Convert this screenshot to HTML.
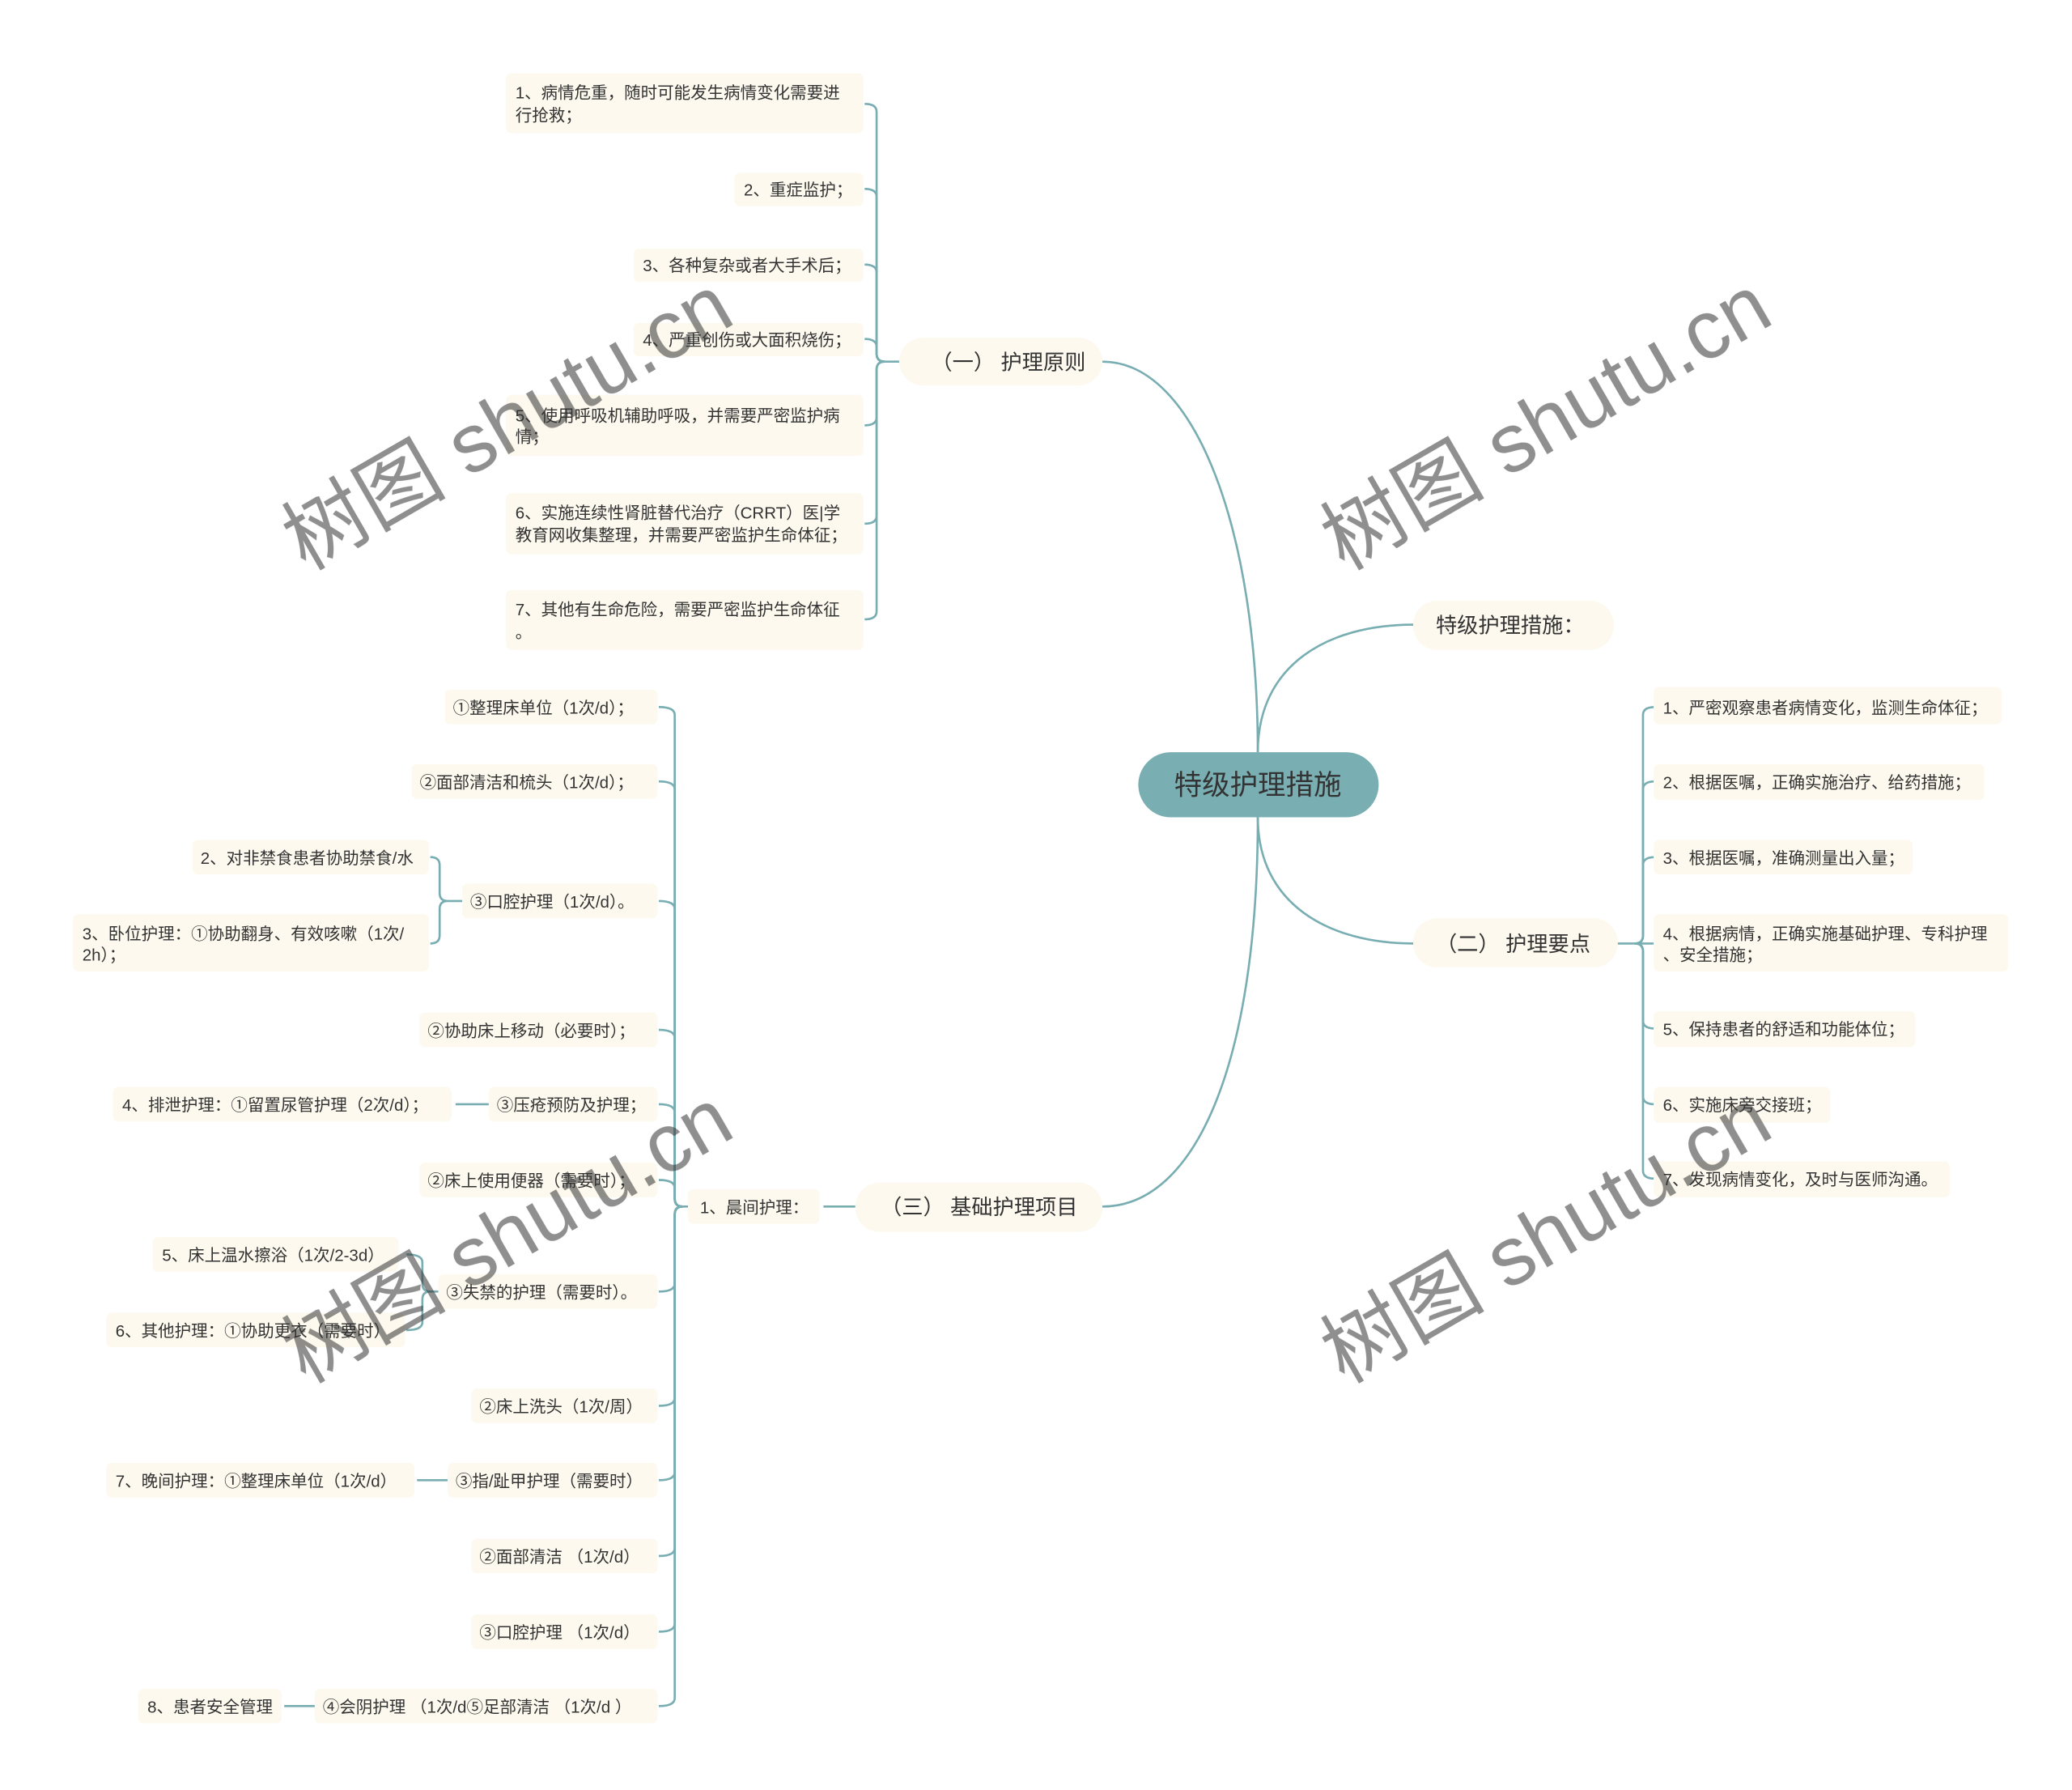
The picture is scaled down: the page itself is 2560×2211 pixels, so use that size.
<!DOCTYPE html>
<html><head><meta charset="utf-8"><style>
html,body{margin:0;padding:0;background:#fff;}
svg{display:block;}
text{font-family:"Liberation Sans","Noto Sans CJK SC",sans-serif;fill:#333;}
.l{font-size:12.5px;}
.b{font-size:16px;}
.wm{font-size:62px;fill:#d4d4d4;opacity:.55;font-family:"Liberation Serif","Noto Serif CJK SC",serif;}
</style></head><body>
<svg width="2560" height="2211" viewBox="0 0 1560 1347" xmlns="http://www.w3.org/2000/svg">
<g fill="none" stroke="#78adb1" stroke-width="1.6">
<path d="M947,566 C947,400 900,272 830,272"/>
<path d="M947,566 C947,500 1000,470 1064,470"/>
<path d="M947,615 C947,680 1000,710 1064,710"/>
<path d="M947,615 C947,800 900,908 830,908"/>
<path d="M677,272 L666,272 Q660,272 660,266 L660,84 Q660,78 651,78"/>
<path d="M666,272 Q660,272 660,266 L660,148 Q660,142 651,142"/>
<path d="M666,272 Q660,272 660,266 L660,205 Q660,199 651,199"/>
<path d="M666,272 Q660,272 660,266 L660,261 Q660,255 651,255"/>
<path d="M666,272 Q660,272 660,278 L660,314 Q660,320 651,320"/>
<path d="M666,272 Q660,272 660,278 L660,388 Q660,394 651,394"/>
<path d="M666,272 Q660,272 660,278 L660,460 Q660,466 651,466"/>
<path d="M1218,710 L1231,710 Q1237,710 1237,704 L1237,538 Q1237,532 1246,532"/>
<path d="M1231,710 Q1237,710 1237,704 L1237,594 Q1237,588 1246,588"/>
<path d="M1231,710 Q1237,710 1237,704 L1237,651 Q1237,645 1246,645"/>
<path d="M1231,710 L1246,710"/>
<path d="M1231,710 Q1237,710 1237,716 L1237,768 Q1237,774 1246,774"/>
<path d="M1231,710 Q1237,710 1237,716 L1237,825 Q1237,831 1246,831"/>
<path d="M1231,710 Q1237,710 1237,716 L1237,881 Q1237,887 1246,887"/>
<path d="M644,908 L620,908"/>
<path d="M518,908 L514,908 Q508,908 508,902 L508,538 Q508,532 496,532"/>
<path d="M514,908 Q508,908 508,902 L508,594 Q508,588 496,588"/>
<path d="M514,908 Q508,908 508,902 L508,684 Q508,678 496,678"/>
<path d="M514,908 Q508,908 508,902 L508,781 Q508,775 496,775"/>
<path d="M514,908 Q508,908 508,902 L508,837 Q508,831 496,831"/>
<path d="M514,908 Q508,908 508,902 L508,894 Q508,888 496,888"/>
<path d="M514,908 Q508,908 508,914 L508,966 Q508,972 496,972"/>
<path d="M514,908 Q508,908 508,914 L508,1052 Q508,1058 496,1058"/>
<path d="M514,908 Q508,908 508,914 L508,1108 Q508,1114 496,1114"/>
<path d="M514,908 Q508,908 508,914 L508,1165 Q508,1171 496,1171"/>
<path d="M514,908 Q508,908 508,914 L508,1222 Q508,1228 496,1228"/>
<path d="M514,908 Q508,908 508,914 L508,1278 Q508,1284 496,1284"/>
<path d="M348,678 L337,678 Q331,678 331,672 L331,651 Q331,645 324,645"/>
<path d="M337,678 Q331,678 331,684 L331,704 Q331,710 324,710"/>
<path d="M330,972 L324,972 Q318,972 318,966 L318,950 Q318,944 306,944"/>
<path d="M324,972 Q318,972 318,978 L318,995 Q318,1001 306,1001"/>
<path d="M368,831 L343,831"/>
<path d="M337,1114 L314,1114"/>
<path d="M237,1284 L214,1284"/>
</g>
<g fill="#fdf9ee">
<rect x="677" y="254" width="153" height="36" rx="18"/>
<rect x="1064" y="452" width="151" height="37" rx="18"/>
<rect x="1064" y="691" width="154" height="37" rx="18"/>
<rect x="644" y="890" width="186" height="37" rx="18"/>
<rect x="381" y="55" width="269" height="45" rx="4"/>
<rect x="553" y="130" width="97" height="25" rx="4"/>
<rect x="477" y="187" width="173" height="25" rx="4"/>
<rect x="477" y="243" width="173" height="25" rx="4"/>
<rect x="381" y="297" width="269" height="46" rx="4"/>
<rect x="381" y="371" width="269" height="46" rx="4"/>
<rect x="381" y="444" width="269" height="45" rx="4"/>
<rect x="1245" y="517" width="262" height="28" rx="4"/>
<rect x="1245" y="575" width="249" height="27" rx="4"/>
<rect x="1245" y="632" width="195" height="26" rx="4"/>
<rect x="1245" y="688" width="267" height="43" rx="4"/>
<rect x="1245" y="761" width="197" height="27" rx="4"/>
<rect x="1245" y="818" width="133" height="27" rx="4"/>
<rect x="1245" y="874" width="223" height="27" rx="4"/>
<rect x="518" y="895" width="99" height="26" rx="4"/>
<rect x="335" y="519" width="160" height="26" rx="4"/>
<rect x="310" y="575" width="185" height="26" rx="4"/>
<rect x="348" y="665" width="147" height="26" rx="4"/>
<rect x="145" y="632" width="178" height="26" rx="4"/>
<rect x="55" y="688" width="268" height="43" rx="4"/>
<rect x="316" y="762" width="179" height="26" rx="4"/>
<rect x="368" y="818" width="127" height="26" rx="4"/>
<rect x="85" y="818" width="255" height="26" rx="4"/>
<rect x="316" y="875" width="179" height="26" rx="4"/>
<rect x="330" y="959" width="165" height="26" rx="4"/>
<rect x="115" y="931" width="185" height="26" rx="4"/>
<rect x="80" y="988" width="225" height="26" rx="4"/>
<rect x="355" y="1045" width="140" height="26" rx="4"/>
<rect x="337" y="1101" width="158" height="26" rx="4"/>
<rect x="80" y="1101" width="232" height="26" rx="4"/>
<rect x="355" y="1158" width="140" height="26" rx="4"/>
<rect x="355" y="1215" width="140" height="26" rx="4"/>
<rect x="237" y="1271" width="258" height="26" rx="4"/>
<rect x="104" y="1271" width="108" height="26" rx="4"/>
</g>
<rect x="857" y="566" width="181" height="49" rx="24.5" fill="#79afb3"/>
<text x="947" y="598" text-anchor="middle" style="font-size:21px">特级护理措施</text>
<g class="b">
<text x="701" y="278">（一） 护理原则</text>
<text x="1081" y="476">特级护理措施：</text>
<text x="1081" y="716">（二） 护理要点</text>
<text x="663" y="914">（三） 基础护理项目</text>
</g>
<g class="l">
<text x="388" y="74">1、病情危重，随时可能发生病情变化需要进</text>
<text x="388" y="91">行抢救；</text>
<text x="560" y="147">2、重症监护；</text>
<text x="484" y="204">3、各种复杂或者大手术后；</text>
<text x="484" y="260">4、严重创伤或大面积烧伤；</text>
<text x="388" y="317">5、使用呼吸机辅助呼吸，并需要严密监护病</text>
<text x="388" y="333">情；</text>
<text x="388" y="390">6、实施连续性肾脏替代治疗（CRRT）医|学</text>
<text x="388" y="407">教育网收集整理，并需要严密监护生命体征；</text>
<text x="388" y="463">7、其他有生命危险，需要严密监护生命体征</text>
<text x="388" y="480">。</text>
<text x="1252" y="537">1、严密观察患者病情变化，监测生命体征；</text>
<text x="1252" y="593">2、根据医嘱，正确实施治疗、给药措施；</text>
<text x="1252" y="650">3、根据医嘱，准确测量出入量；</text>
<text x="1252" y="707">4、根据病情，正确实施基础护理、专科护理</text>
<text x="1252" y="723">、安全措施；</text>
<text x="1252" y="779">5、保持患者的舒适和功能体位；</text>
<text x="1252" y="836">6、实施床旁交接班；</text>
<text x="1252" y="892">7、发现病情变化，及时与医师沟通。</text>
<text x="527" y="913">1、晨间护理：</text>
<text x="341" y="537">①整理床单位（1次/d）；</text>
<text x="316" y="593">②面部清洁和梳头（1次/d）；</text>
<text x="354" y="683">③口腔护理（1次/d）。</text>
<text x="151" y="650">2、对非禁食患者协助禁食/水</text>
<text x="62" y="707">3、卧位护理：①协助翻身、有效咳嗽（1次/</text>
<text x="62" y="723">2h）；</text>
<text x="322" y="780">②协助床上移动（必要时）；</text>
<text x="374" y="836">③压疮预防及护理；</text>
<text x="92" y="836">4、排泄护理：①留置尿管护理（2次/d）；</text>
<text x="322" y="893">②床上使用便器（需要时）；</text>
<text x="336" y="977">③失禁的护理（需要时）。</text>
<text x="122" y="949">5、床上温水擦浴（1次/2-3d）</text>
<text x="87" y="1006">6、其他护理：①协助更衣（需要时）</text>
<text x="361" y="1063">②床上洗头（1次/周）</text>
<text x="343" y="1119">③指/趾甲护理（需要时）</text>
<text x="87" y="1119">7、晚间护理：①整理床单位（1次/d）</text>
<text x="361" y="1176">②面部清洁 （1次/d）</text>
<text x="361" y="1233">③口腔护理 （1次/d）</text>
<text x="243" y="1289">④会阴护理 （1次/d⑤足部清洁 （1次/d ）</text>
<text x="111" y="1289">8、患者安全管理</text>
</g>
<g class="wm">
<text transform="translate(230,430) rotate(-30)">树图 shutu.cn</text>
<text transform="translate(1012,430) rotate(-30)">树图 shutu.cn</text>
<text transform="translate(230,1042) rotate(-30)">树图 shutu.cn</text>
<text transform="translate(1012,1042) rotate(-30)">树图 shutu.cn</text>
</g>
</svg>
</body></html>
